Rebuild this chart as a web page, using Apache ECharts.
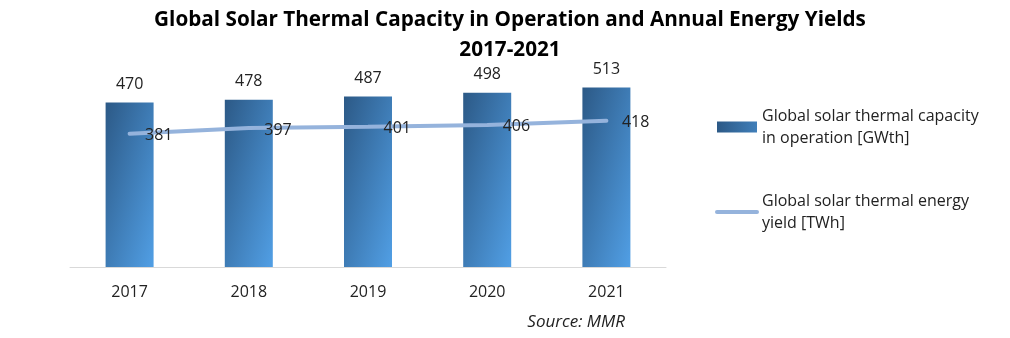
<!DOCTYPE html>
<html><head><meta charset="utf-8">
<script src="https://cdn.jsdelivr.net/npm/echarts@6/dist/echarts.min.js"></script>
<style>html,body{margin:0;padding:0;background:#fff}#c{width:1010px;height:338px}</style>
</head><body><div id="c"></div>
<script>
const categories = ['2017', '2018', '2019', '2020', '2021'];
const capacityGWth = [470, 478, 487, 498, 513];
const yieldTWh = [381, 397, 401, 406, 418];
const seriesNames = ['Global solar thermal capacity\nin operation [GWth]', 'Global solar thermal energy\nyield [TWh]'];

const chart = echarts.init(document.getElementById('c'));
const FONT = 'Open Sans';
const BAR_W = 48;

// Excel-style diagonal gradient scaled to the bar's box (isolines along the anti-diagonal)
function barGradient(h) {
  const w = BAR_W, s = h * h + w * w;
  return new echarts.graphic.LinearGradient(0, 0, 2 * h * h / s, 2 * w * w / s, [
    { offset: 0, color: '#2C5986' }, { offset: 1, color: '#519FE5' }
  ]);
}

const option = {
  animation: false,
  title: [{
    text: 'Global Solar Thermal Capacity in Operation and Annual Energy Yields\n2017-2021',
    left: 505, textAlign: 'center', top: 0,
    textStyle: { fontFamily: FONT, fontWeight: 'bold', fontSize: 20.7, lineHeight: 30, color: '#000' }
  }, {
    text: 'Source: MMR',
    right: 380, top: 309,
    textStyle: { fontFamily: FONT, fontStyle: 'italic', fontWeight: 'normal', fontSize: 17, color: '#222' }
  }],
  legend: {
    orient: 'vertical', left: 710, top: 100, itemGap: 41,
    itemWidth: 40, itemHeight: 11,
    textStyle: { fontFamily: FONT, fontSize: 16, lineHeight: 22, color: '#222' },
    data: [
      { name: seriesNames[0], icon: 'rect' },
      { name: seriesNames[1], lineStyle: { width: 4, color: '#95B3DC', cap: 'round' } }
    ]
  },
  grid: { left: 70, right: 344, top: 57, bottom: 71 },
  xAxis: {
    type: 'category', data: categories,
    axisLine: { lineStyle: { color: '#D9D9D9', width: 1 } },
    axisTick: { show: false },
    axisLabel: { fontFamily: FONT, fontSize: 16, color: '#222', margin: 17 }
  },
  yAxis: { type: 'value', min: 0, max: 600, show: false, splitLine: { show: false } },
  series: [{
    name: seriesNames[0], type: 'bar', data: capacityGWth, barWidth: BAR_W,
    itemStyle: { color: barGradient(170) },
    label: { show: true, position: 'top', distance: 10, fontFamily: FONT, fontSize: 16, color: '#222' }
  }, {
    name: seriesNames[1], type: 'line', data: yieldTWh,
    symbol: 'circle', symbolSize: 1, showSymbol: true,
    lineStyle: { color: '#95B3DC', width: 4, cap: 'round' },
    itemStyle: { color: 'rgba(0,0,0,0)', borderWidth: 0 },
    label: { show: true, position: 'right', distance: 15, offset: [0, 2], fontFamily: FONT, fontSize: 16, color: '#222' },
    z: 3
  }]
};
chart.setOption(option);

// per-bar gradient using the bar's pixel height from the axis scale
const base = chart.convertToPixel({ yAxisIndex: 0 }, 0);
option.series[0].data = capacityGWth.map(v => ({
  value: v,
  itemStyle: { color: barGradient(base - chart.convertToPixel({ yAxisIndex: 0 }, v)) }
}));
chart.setOption(option);
</script></body></html>
